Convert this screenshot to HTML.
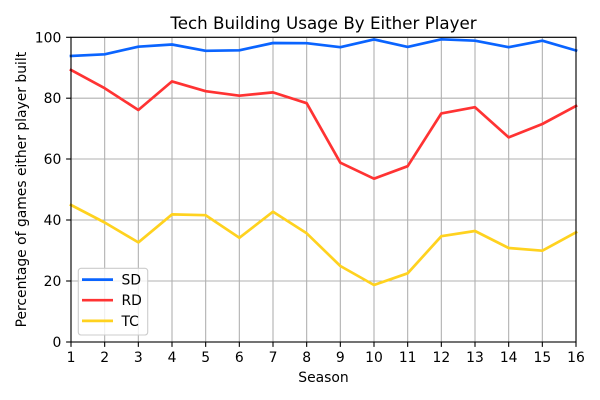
<!DOCTYPE html>
<html>
<head>
<meta charset="utf-8">
<style>
  html, body { margin: 0; padding: 0; background: #ffffff; }
  svg { display: block; }
  text { font-family: "DejaVu Sans", "Liberation Sans", sans-serif; fill: #000; }
</style>
</head>
<body>
<svg width="600" height="400" viewBox="0 0 600 400" xmlns="http://www.w3.org/2000/svg">
  <rect x="0" y="0" width="600" height="400" fill="#ffffff"/>

  <!-- grid -->
  <g stroke="#b0b0b0" stroke-width="1.1" fill="none">
    <line x1="71" y1="37.3" x2="71" y2="342"/>
    <line x1="104.67" y1="37.3" x2="104.67" y2="342"/>
    <line x1="138.33" y1="37.3" x2="138.33" y2="342"/>
    <line x1="172" y1="37.3" x2="172" y2="342"/>
    <line x1="205.67" y1="37.3" x2="205.67" y2="342"/>
    <line x1="239.33" y1="37.3" x2="239.33" y2="342"/>
    <line x1="273" y1="37.3" x2="273" y2="342"/>
    <line x1="306.67" y1="37.3" x2="306.67" y2="342"/>
    <line x1="340.33" y1="37.3" x2="340.33" y2="342"/>
    <line x1="374" y1="37.3" x2="374" y2="342"/>
    <line x1="407.67" y1="37.3" x2="407.67" y2="342"/>
    <line x1="441.33" y1="37.3" x2="441.33" y2="342"/>
    <line x1="475" y1="37.3" x2="475" y2="342"/>
    <line x1="508.67" y1="37.3" x2="508.67" y2="342"/>
    <line x1="542.33" y1="37.3" x2="542.33" y2="342"/>
    <line x1="576" y1="37.3" x2="576" y2="342"/>
    <line x1="71" y1="342" x2="576" y2="342"/>
    <line x1="71" y1="281" x2="576" y2="281"/>
    <line x1="71" y1="220" x2="576" y2="220"/>
    <line x1="71" y1="159" x2="576" y2="159"/>
    <line x1="71" y1="98.2" x2="576" y2="98.2"/>
    <line x1="71" y1="37.3" x2="576" y2="37.3"/>
  </g>

  <!-- series -->
  <g fill="none" stroke-width="2.7" stroke-linejoin="round" stroke-linecap="square">
    <polyline stroke="#0a64ff" points="71,56 104.67,54.3 138.33,46.7 172,44.5 205.67,50.8 239.33,50.3 273,43 306.67,43.2 340.33,47.2 374,39.4 407.67,46.9 441.33,39.3 475,40.7 508.67,47.2 542.33,40.7 576,50.5"/>
    <polyline stroke="#ff3333" points="71,70 104.67,88.2 138.33,110 172,81.4 205.67,91.2 239.33,95.7 273,92.4 306.67,103.2 340.33,162.7 374,178.7 407.67,166.2 441.33,113.4 475,107.2 508.67,137.4 542.33,124 576,106"/>
    <polyline stroke="#ffd21f" points="71,205 104.67,222.5 138.33,242.4 172,214.4 205.67,215.2 239.33,237.8 273,211.7 306.67,233.3 340.33,266 374,285 407.67,273.3 441.33,236.2 475,231 508.67,248 542.33,250.7 576,232.3"/>
  </g>

  <!-- spines -->
  <rect x="71" y="37.3" width="505" height="304.7" fill="none" stroke="#000" stroke-width="1.1"/>

  <!-- ticks -->
  <g stroke="#000" stroke-width="1.1">
    <line x1="71" y1="342" x2="71" y2="346.9"/>
    <line x1="104.67" y1="342" x2="104.67" y2="346.9"/>
    <line x1="138.33" y1="342" x2="138.33" y2="346.9"/>
    <line x1="172" y1="342" x2="172" y2="346.9"/>
    <line x1="205.67" y1="342" x2="205.67" y2="346.9"/>
    <line x1="239.33" y1="342" x2="239.33" y2="346.9"/>
    <line x1="273" y1="342" x2="273" y2="346.9"/>
    <line x1="306.67" y1="342" x2="306.67" y2="346.9"/>
    <line x1="340.33" y1="342" x2="340.33" y2="346.9"/>
    <line x1="374" y1="342" x2="374" y2="346.9"/>
    <line x1="407.67" y1="342" x2="407.67" y2="346.9"/>
    <line x1="441.33" y1="342" x2="441.33" y2="346.9"/>
    <line x1="475" y1="342" x2="475" y2="346.9"/>
    <line x1="508.67" y1="342" x2="508.67" y2="346.9"/>
    <line x1="542.33" y1="342" x2="542.33" y2="346.9"/>
    <line x1="576" y1="342" x2="576" y2="346.9"/>
    <line x1="66.1" y1="342" x2="71" y2="342"/>
    <line x1="66.1" y1="281" x2="71" y2="281"/>
    <line x1="66.1" y1="220" x2="71" y2="220"/>
    <line x1="66.1" y1="159" x2="71" y2="159"/>
    <line x1="66.1" y1="98.2" x2="71" y2="98.2"/>
    <line x1="66.1" y1="37.3" x2="71" y2="37.3"/>
  </g>

  <!-- x tick labels -->
  <g font-size="13.9" text-anchor="middle">
    <text x="71" y="362">1</text>
    <text x="104.67" y="362">2</text>
    <text x="138.33" y="362">3</text>
    <text x="172" y="362">4</text>
    <text x="205.67" y="362">5</text>
    <text x="239.33" y="362">6</text>
    <text x="273" y="362">7</text>
    <text x="306.67" y="362">8</text>
    <text x="340.33" y="362">9</text>
    <text x="374" y="362">10</text>
    <text x="407.67" y="362">11</text>
    <text x="441.33" y="362">12</text>
    <text x="475" y="362">13</text>
    <text x="508.67" y="362">14</text>
    <text x="542.33" y="362">15</text>
    <text x="576" y="362">16</text>
  </g>

  <!-- y tick labels -->
  <g font-size="13.9" text-anchor="end">
    <text x="61.3" y="347">0</text>
    <text x="61.3" y="286">20</text>
    <text x="61.3" y="225">40</text>
    <text x="61.3" y="164">60</text>
    <text x="61.3" y="103.2">80</text>
    <text x="61.3" y="42.3">100</text>
  </g>

  <!-- labels -->
  <text x="323.5" y="29" font-size="16.7" text-anchor="middle">Tech Building Usage By Either Player</text>
  <text x="323.5" y="382" font-size="13.9" text-anchor="middle">Season</text>
  <text x="0" y="0" font-size="13.9" text-anchor="middle" transform="translate(26,189.6) rotate(-90)">Percentage of games either player built</text>

  <!-- legend -->
  <rect x="78.3" y="268.3" width="69.4" height="66.7" rx="2.8" ry="2.8" fill="#ffffff" fill-opacity="0.8" stroke="#cccccc" stroke-width="1.1"/>
  <g stroke-width="2.7" stroke-linecap="butt">
    <line x1="82" y1="279.6" x2="113" y2="279.6" stroke="#0a64ff"/>
    <line x1="82" y1="300.2" x2="113" y2="300.2" stroke="#ff3333"/>
    <line x1="82" y1="320.9" x2="113" y2="320.9" stroke="#ffd21f"/>
  </g>
  <g font-size="13.9">
    <text x="121.5" y="284.6">SD</text>
    <text x="121.5" y="305.2">RD</text>
    <text x="121.5" y="325.9">TC</text>
  </g>
</svg>
</body>
</html>
